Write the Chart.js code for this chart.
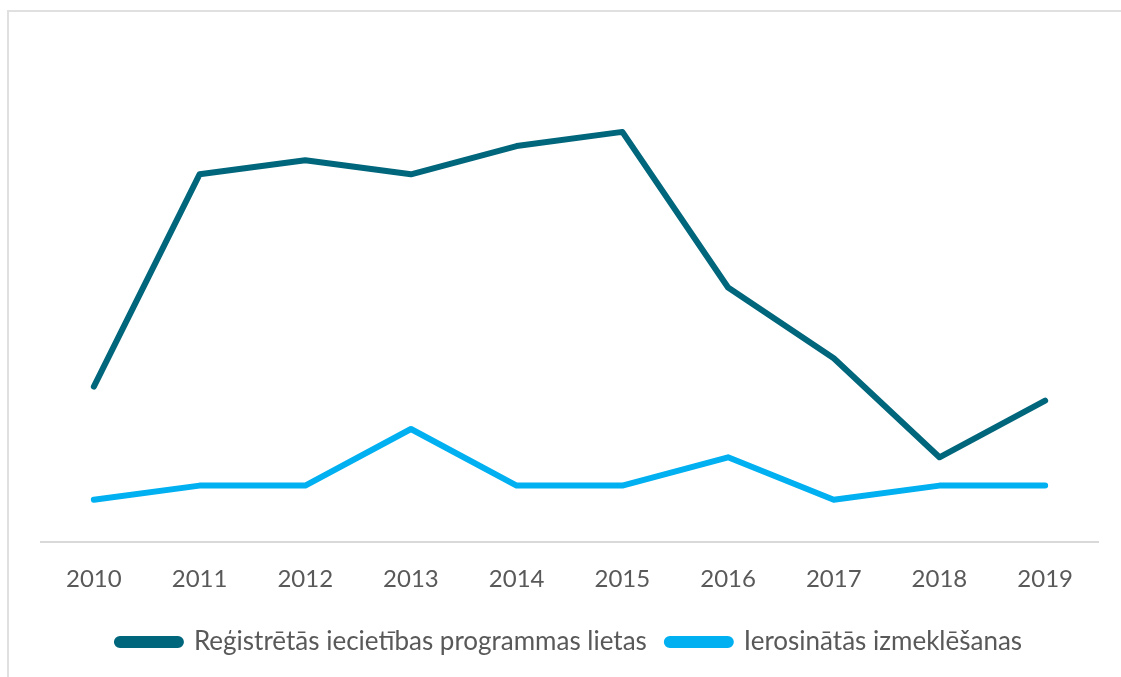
<!DOCTYPE html>
<html>
<head>
<meta charset="utf-8">
<script src="https://cdn.jsdelivr.net/npm/chart.js@4.4.1/dist/chart.umd.min.js"></script>
<style>
  html, body { margin: 0; padding: 0; background: #fff; overflow: hidden; }
  #frame { position: absolute; left: 7px; top: 10px; width: 1130px; height: 700px; border: 2px solid #e0e0e0; box-sizing: border-box; }
  #wrap { position: absolute; left: 0; top: 0; width: 1121px; height: 677px; }
</style>
</head>
<body>
<div id="frame"></div>
<div id="wrap"><canvas id="lines"></canvas></div>
<script>
// years on the x axis
var years = ['2010','2011','2012','2013','2014','2015','2016','2017','2018','2019'];
// Reģistrētās iecietības programmas lietas
var registered = [11, 26, 27, 26, 28, 29, 18, 13, 6, 10];
// Ierosinātās izmeklēšanas
var initiated = [3, 4, 4, 8, 4, 4, 6, 3, 4, 4];

var seriesNames = ['Reģistrētās iecietības programmas lietas', 'Ierosinātās izmeklēšanas'];
var seriesColors = ['#00667c', '#00b0f0'];

var ctx = document.getElementById('lines');
var linesVar = new Chart(ctx, {
  type: 'line',
  data: {
    labels: years,
    datasets: [{
      label: seriesNames[0],
      data: registered,
      borderColor: seriesColors[0],
      backgroundColor: seriesColors[0],
      borderWidth: 6,
      borderCapStyle: 'round',
      borderJoinStyle: 'round',
      pointRadius: 0,
      tension: 0,
      fill: false
    }, {
      label: seriesNames[1],
      data: initiated,
      borderColor: seriesColors[1],
      backgroundColor: seriesColors[1],
      borderWidth: 6,
      borderCapStyle: 'round',
      borderJoinStyle: 'round',
      pointRadius: 0,
      tension: 0,
      fill: false
    }]
  },
  options: {
    responsive: true,
    maintainAspectRatio: false,
    animation: false,
    layout: {
      padding: { top: 47, left: 41, right: 23, bottom: 12 }
    },
    scales: {
      x: {
        offset: true,
        grid: { display: false, offset: true },
        border: { display: true, color: '#d9d9d9', width: 2 },
        ticks: { color: '#595959', font: { family: 'Lato', size: 24 }, padding: 15, maxRotation: 0 }
      },
      y: {
        display: false,
        min: 0,
        max: 35
      }
    },
    plugins: {
      legend: {
        position: 'bottom',
        labels: {
          color: '#595959',
          font: { family: 'Lato', size: 26 },
          boxWidth: 64,
          boxHeight: 6,
          useBorderRadius: true,
          borderRadius: 3,
          padding: 20
        }
      },
      tooltip: { enabled: false }
    }
  }
});
</script>
</body>
</html>
